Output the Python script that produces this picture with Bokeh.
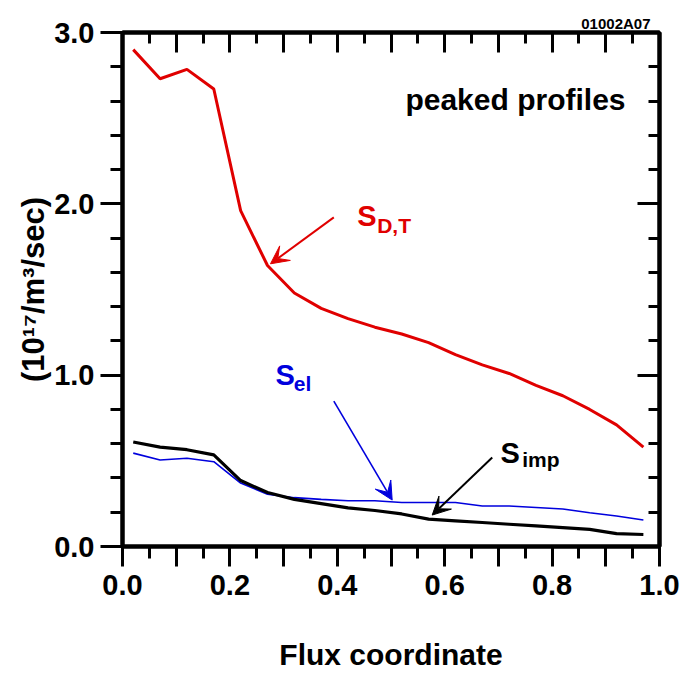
from bokeh.plotting import figure
from bokeh.models import (LinearAxis, FixedTicker, CustomJSTickFormatter, PrintfTickFormatter,
                          Label, Arrow, VeeHead, Range1d, Title)
from bokeh.embed import file_html
from bokeh.resources import INLINE

# ---- data ----
flux = [0.02, 0.07, 0.12, 0.17, 0.22, 0.27, 0.32, 0.37, 0.42, 0.47,
        0.52, 0.57, 0.62, 0.67, 0.72, 0.77, 0.82, 0.87, 0.92, 0.97]
s_dt = [2.90, 2.73, 2.785, 2.67, 1.96, 1.64, 1.48, 1.39, 1.33, 1.28,
        1.24, 1.19, 1.12, 1.06, 1.01, 0.94, 0.88, 0.80, 0.71, 0.58]
s_el = [0.545, 0.505, 0.515, 0.495, 0.37, 0.305, 0.285, 0.275, 0.267, 0.267,
        0.257, 0.257, 0.257, 0.236, 0.236, 0.228, 0.219, 0.197, 0.178, 0.155]
s_imp = [0.61, 0.58, 0.565, 0.535, 0.385, 0.315, 0.275, 0.25, 0.225, 0.21,
         0.19, 0.16, 0.15, 0.14, 0.13, 0.12, 0.11, 0.10, 0.075, 0.07]

x_major = [0.0, 0.1, 0.2, 0.3, 0.4, 0.5, 0.6, 0.7, 0.8, 0.9, 1.0]
x_minor = [0.05, 0.15, 0.25, 0.35, 0.45, 0.55, 0.65, 0.75, 0.85, 0.95]
y_major = [0.0, 1.0, 2.0, 3.0]
y_minor = [0.2, 0.4, 0.6, 0.8, 1.2, 1.4, 1.6, 1.8, 2.2, 2.4, 2.6, 2.8]

x_title = "Flux coordinate"
y_title = "(10\u00b9\u2077/m\u00b3/sec)"
fig_code = "01002A07"

RED = "#e00000"
BLUE = "#0000dd"
BLACK = "#000000"
FONT = "Liberation Sans"

p = figure(width=696, height=673, x_range=Range1d(0, 1), y_range=Range1d(0, 3),
           output_backend="svg", toolbar_location=None,
           min_border_left=122, min_border_right=37, min_border_top=32, min_border_bottom=126,
           background_fill_color="white", border_fill_color="white")
p.grid.visible = False
p.outline_line_color = "black"
p.outline_line_width = 4

def style(ax, tick_in, tick_out, minor_in, minor_out):
    ax.axis_line_width = 4
    ax.axis_line_color = "black"
    ax.major_tick_line_width = 3
    ax.minor_tick_line_width = 3
    ax.major_tick_in = tick_in
    ax.major_tick_out = tick_out
    ax.minor_tick_in = minor_in
    ax.minor_tick_out = minor_out
    ax.major_label_text_font = FONT
    ax.major_label_text_font_style = "bold"
    ax.major_label_text_font_size = "29px"
    ax.major_label_text_color = "black"
    ax.axis_label_text_font = FONT
    ax.axis_label_text_font_style = "bold"
    ax.axis_label_text_color = "black"

# bottom
xb = p.xaxis[0]
xb.ticker = FixedTicker(ticks=x_major, minor_ticks=x_minor)
xb.formatter = CustomJSTickFormatter(code="return (Math.round(tick*10) % 2 === 0) ? tick.toFixed(1) : '';")
style(xb, 0, 20, 0, 12)
xb.major_label_standoff = 8
xb.axis_label = x_title
xb.axis_label_text_font_size = "30px"
xb.axis_label_standoff = 40

# left
yl = p.yaxis[0]
yl.ticker = FixedTicker(ticks=y_major, minor_ticks=y_minor)
yl.formatter = PrintfTickFormatter(format="%.1f")
style(yl, 0, 22, 0, 12)
yl.major_label_standoff = 6
yl.axis_label = y_title
yl.axis_label_text_font_size = "31px"
yl.axis_label_standoff = 0

# top
xt = LinearAxis(ticker=FixedTicker(ticks=x_major, minor_ticks=x_minor),
                formatter=CustomJSTickFormatter(code="return '';"))
style(xt, 20, 0, 11, 0)
xt.major_label_standoff = 0
p.add_layout(xt, "above")

# right
yr = LinearAxis(ticker=FixedTicker(ticks=y_major, minor_ticks=y_minor),
                formatter=CustomJSTickFormatter(code="return '';"))
style(yr, 22, 0, 11, 0)
yr.major_label_standoff = 0
p.add_layout(yr, "right")

# figure code at top right
p.add_layout(Title(text=fig_code, align="right", text_font=FONT, text_font_style="bold",
                   text_font_size="15px", text_color="black", standoff=2, offset=9), "above")

# curves
p.line(flux, s_dt, line_color=RED, line_width=3)
p.line(flux, s_el, line_color=BLUE, line_width=1.6)
p.line(flux, s_imp, line_color=BLACK, line_width=3.2)

# arrows
p.add_layout(Arrow(x_start=0.3935, y_start=1.921, x_end=0.2756, y_end=1.650,
                   line_color=RED, line_width=2,
                   end=VeeHead(size=18, fill_color=RED, line_color=RED, line_width=1)))
p.add_layout(Arrow(x_start=0.3935, y_start=0.849, x_end=0.5022, y_end=0.271,
                   line_color=BLUE, line_width=1.6,
                   end=VeeHead(size=18, fill_color=BLUE, line_color=BLUE, line_width=1)))
p.add_layout(Arrow(x_start=0.6885, y_start=0.5196, x_end=0.5767, y_end=0.1835,
                   line_color=BLACK, line_width=2,
                   end=VeeHead(size=18, fill_color=BLACK, line_color=BLACK, line_width=1)))

def lab(x, y, text, size, color="black", align="left"):
    p.add_layout(Label(x=x, y=y, text=text, text_font=FONT, text_font_style="bold",
                       text_font_size=size, text_color=color, text_align=align,
                       text_baseline="alphabetic"))

# curve labels
lab(0.437, 1.931, "S", "29px", RED)
lab(0.4743, 1.873, "D,T", "21px", RED)
lab(0.2849, 0.999, "S", "29px", BLUE)
lab(0.319, 0.9507, "el", "21px", BLUE)
lab(0.7039, 0.543, "S", "29px", BLACK)
lab(0.7443, 0.508, "imp", "21px", BLACK)

lab(0.9367, 2.611, "peaked profiles", "30px", align="right")

open("out.html", "w").write(file_html(p, INLINE))
